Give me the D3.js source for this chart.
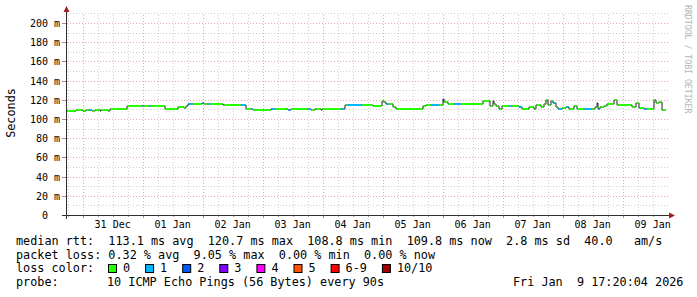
<!DOCTYPE html>
<html>
<head>
<meta charset="utf-8">
<script src="https://cdn.jsdelivr.net/npm/d3@7"></script>
<style>
  body { margin: 0; background: #fff; }
  svg text { font-family: "DejaVu Sans Mono", monospace; white-space: pre; }
</style>
</head>
<body>
<div id="chart"></div>
<script>
// median rtt steps: hours after the graph start, value in ms, lost pings (of 10)
const stepHours = [0, 4, 6.8, 8, 9.2, 10.4, 11.6, 13.6, 14, 16.8, 17.6, 24.4, 30.4, 31.2, 33.2, 34,
  39.6, 44.8, 47.2, 48, 48.8, 50.8, 54.4, 55.2, 56.4, 57.6, 62.8, 63.2, 70, 72, 74, 74.8, 82, 83.6,
  88.8, 90, 96.8, 98, 99.6, 100, 102, 102.4, 110, 111.2, 111.6, 112.4, 118.4, 122.8, 126.4, 127.2,
  128, 129.2, 130.8, 132, 142.8, 144, 146, 149.2, 150.8, 151.2, 152.8, 155.2, 158, 166.8, 169.6,
  170.8, 171.2, 172, 173.2, 174.4, 177.2, 178.4, 181.2, 182.4, 185.2, 187.2, 188, 190, 191.2, 192,
  192.8, 194, 194.8, 196, 196.8, 198.4, 200, 201.2, 203.2, 204.4, 207.2, 210.4, 211.6, 212.4, 212.8,
  213.6, 215.2, 216.4, 219.2, 220.4, 221.2, 226.4, 228, 229.2, 231.2, 232.4, 235.2, 236, 237.2, 238.4];
const medianMs = [108.8, 109.6, 108.8, 109.6, 109.6, 108.8, 109.6, 108.8, 109.6, 108.8, 110.5, 113.2,
  113.2, 113.2, 113.2, 113.2, 110.5, 112.3, 111.5, 113.2, 115.3, 115.3, 116.4, 115.3, 115.3, 115.3,
  114.6, 114.6, 114.6, 110.1, 110.1, 109.8, 110.1, 110.1, 109.8, 110.1, 110.1, 109.8, 110.1, 110.1,
  109.8, 110.1, 110.1, 110.1, 114.6, 114.6, 114.6, 113.5, 119.0, 117.2, 115.3, 115.3, 113.0, 109.9,
  113.5, 114.6, 114.6, 114.6, 120.5, 117.5, 115.5, 115.5, 115.5, 119.2, 113.5, 118.5, 116.0, 113.5,
  110.5, 113.5, 113.5, 113.5, 112.5, 110.6, 112.5, 110.6, 114.5, 112.5, 115.5, 119.5, 114.5, 119.0,
  116.5, 112.5, 110.6, 111.0, 112.0, 110.6, 113.5, 110.6, 110.0, 110.6, 113.0, 116.7, 110.0, 112.0,
  113.5, 115.5, 119.5, 115.0, 114.5, 112.5, 117.0, 111.0, 110.6, 110.6, 119.5, 116.5, 118.0, 109.8];
const lossPings = [0, 0, 0, 0, 1, 0, 0, 0, 0, 0, 0, 0, 1, 0, 1, 0, 0, 0, 0, 0, 1, 0, 1, 0, 1, 0, 1, 0,
  1, 0, 1, 0, 1, 0, 1, 0, 1, 0, 1, 0, 1, 0, 1, 0, 0, 1, 0, 0, 0, 0, 1, 0, 0, 0, 0, 0, 1, 0, 1, 0, 0,
  1, 0, 0, 0, 0, 0, 0, 0, 0, 1, 0, 1, 0, 0, 0, 0, 0, 0, 0, 0, 0, 1, 0, 1, 0, 1, 0, 0, 0, 1, 0, 0, 0,
  1, 0, 0, 0, 0, 0, 0, 0, 0, 0, 1, 0, 0, 0, 0, 0];

const yTicks = [0, 20, 40, 60, 80, 100, 120, 140, 160, 180, 200];
const lossLabels = ['0', '1', '2', '3', '4', '5', '6-9', '10/10'];
const lossColors = ['#26ff00', '#00b8ff', '#0059ff', '#7e00ff', '#ff00ff', '#ff5500', '#ff0000', '#a10000'];

const statLines = [
  'median rtt:  113.1 ms avg  120.7 ms max  108.8 ms min  109.8 ms now  2.8 ms sd  40.0   am/s',
  'packet loss: 0.32 % avg  9.05 % max  0.00 % min  0.00 % now'
];
const probeText = '10 ICMP Echo Pings (56 Bytes) every 90s';
const stampText = 'Fri Jan  9 17:20:04 2026';

const startTime = new Date(2025, 11, 30, 17, 20);
const endTime = new Date(2026, 0, 9, 17, 20);

const width = 697;
const height = 297;

const svg = d3.select('#chart').append('svg')
    .attr('width', width)
    .attr('height', height);

const x = d3.scaleTime().domain([startTime, endTime]).range([66, 666]);
const y = d3.scaleLinear().domain([0, 210]).range([215, 13.4]);

const gridRight = 668;
const grid = svg.append('g');

// horizontal grid, every 10 ms, red every 20
for (let v = 10; v <= 210; v += 10) {
  grid.append('line')
      .attr('x1', 67).attr('x2', gridRight)
      .attr('y1', Math.round(y(v)) + 0.5).attr('y2', Math.round(y(v)) + 0.5)
      .attr('stroke', v % 20 === 0 ? '#eaa8a8' : '#cfcfcf')
      .attr('stroke-dasharray', '1,2');
}

// vertical grid, every 6 hours, red at midnight
d3.timeHour.every(6).range(startTime, endTime).forEach(t => {
  const major = t.getHours() === 0;
  grid.append('line')
      .attr('x1', Math.round(x(t)) + 0.5).attr('x2', Math.round(x(t)) + 0.5)
      .attr('y1', 214).attr('y2', 13)
      .attr('stroke', major ? '#eaa8a8' : '#cfcfcf')
      .attr('stroke-dasharray', '1,2');
  svg.append('line')
      .attr('x1', Math.round(x(t)) + 0.5).attr('x2', Math.round(x(t)) + 0.5)
      .attr('y1', 215).attr('y2', major ? 218 : 217)
      .attr('stroke', major ? '#c08080' : '#a0a0a0');
});

// y labels
yTicks.forEach(v => {
  svg.append('line')
      .attr('x1', 62).attr('x2', 66)
      .attr('y1', Math.round(y(v)) + 0.5).attr('y2', Math.round(y(v)) + 0.5)
      .attr('stroke', '#c08080');
  svg.append('text')
      .attr('x', 60)
      .attr('y', Math.round(y(v)) + 4)
      .attr('text-anchor', 'end')
      .attr('font-size', '10px')
      .text(v === 0 ? '0  ' : v + ' m');
});

// x labels at noon
d3.timeDay.range(startTime, endTime).forEach(d => {
  const noon = d3.timeHour.offset(d, 12);
  if (noon < startTime || noon > endTime) return;
  svg.append('text')
      .attr('x', x(noon))
      .attr('y', 228)
      .attr('text-anchor', 'middle')
      .attr('font-size', '10px')
      .text(d3.timeFormat('%d %b')(d));
});

// median: thin dark step line underneath, loss coloured pieces on top
const pts = stepHours.map((h, i) => ({ t: d3.timeMinute.offset(startTime, h * 60), v: medianMs[i], loss: lossPings[i] }));
const ends = pts.map((p, i) => i < pts.length - 1 ? pts[i + 1].t : endTime);

const stepLine = d3.line()
    .x(d => x(d.t))
    .y(d => Math.round(y(d.v)))
    .curve(d3.curveStepAfter);

svg.append('path')
    .datum(pts.concat([{ t: endTime, v: medianMs[medianMs.length - 1] }]))
    .attr('d', stepLine)
    .attr('fill', 'none')
    .attr('stroke', '#202020')
    .attr('stroke-width', 1);

function lossIndex(n) {
  if (n <= 5) return n;
  if (n < 10) return 6;
  return 7;
}

svg.append('g').selectAll('line')
    .data(pts)
    .join('line')
    .attr('x1', (d, i) => x(d.t) + 0.5)
    .attr('x2', (d, i) => x(ends[i]) - 0.5)
    .attr('y1', d => Math.round(y(d.v)))
    .attr('y2', d => Math.round(y(d.v)))
    .attr('stroke', d => lossColors[lossIndex(d.loss)])
    .attr('stroke-width', 2);

// axes with arrows
svg.append('line')
    .attr('x1', 62).attr('x2', 670)
    .attr('y1', 215.5).attr('y2', 215.5)
    .attr('stroke', '#303030');
svg.append('line')
    .attr('x1', 66.5).attr('x2', 66.5)
    .attr('y1', 219).attr('y2', 11)
    .attr('stroke', '#303030');
svg.append('path')
    .attr('d', 'M669,212.5 L675,215.5 L669,218.5 Z')
    .attr('fill', '#a02020');
svg.append('path')
    .attr('d', 'M63.5,12 L66.5,6 L69.5,12 Z')
    .attr('fill', '#a02020');

// axis title and watermark
svg.append('text')
    .attr('transform', 'translate(15,113) rotate(-90)')
    .attr('text-anchor', 'middle')
    .attr('font-size', '11.8px')
    .text('Seconds');

svg.append('text')
    .attr('transform', 'translate(685,5) rotate(90)')
    .attr('font-size', '8.2px')
    .attr('fill', '#b4b4b4')
    .text('RRDTOOL / TOBI OETIKER');

// legend block
const charW = 7.1;
statLines.forEach((s, i) => {
  svg.append('text')
      .attr('x', 16)
      .attr('y', 245 + i * 13.5)
      .attr('font-size', '11.8px')
      .text(s);
});

svg.append('text')
    .attr('x', 16).attr('y', 272)
    .attr('font-size', '11.8px')
    .text('loss color:');

let lx = 108;
lossLabels.forEach((lab, i) => {
  svg.append('rect')
      .attr('x', lx + 0.5).attr('y', 264.5)
      .attr('width', 8).attr('height', 8)
      .attr('fill', lossColors[i])
      .attr('stroke', '#000')
      .attr('stroke-width', 1);
  svg.append('text')
      .attr('x', lx + 15).attr('y', 272)
      .attr('font-size', '11.8px')
      .text(lab);
  lx += lab.length * charW + 30;
});

svg.append('text')
    .attr('x', 16).attr('y', 285.5)
    .attr('font-size', '11.8px')
    .text('probe:');
svg.append('text')
    .attr('x', 107).attr('y', 285.5)
    .attr('font-size', '11.8px')
    .text(probeText);
svg.append('text')
    .attr('x', 513).attr('y', 285.5)
    .attr('font-size', '11.8px')
    .text(stampText);
</script>
</body>
</html>
